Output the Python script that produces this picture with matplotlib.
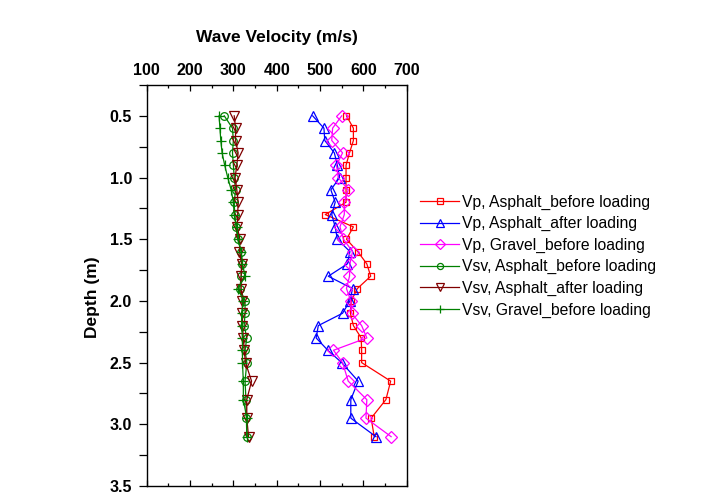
import matplotlib
matplotlib.use("Agg")
import matplotlib.pyplot as plt
from matplotlib.ticker import MultipleLocator

plt.rcParams['font.family'] = ['Liberation Sans', 'DejaVu Sans']

depth = [0.5, 0.6, 0.7, 0.8, 0.9, 1.0, 1.1, 1.2, 1.3, 1.4, 1.5, 1.6, 1.7, 1.8,
         1.9, 2.0, 2.1, 2.2, 2.3, 2.4, 2.5, 2.65, 2.8, 2.95, 3.1]

vp_asphalt_before = [561, 577, 577, 568, 560, 560, 560, 560, 512, 577, 561, 587, 608,
                     617, 586, 572, 570, 577, 595, 596, 596, 663, 652, 618, 625]
vp_asphalt_after = [483, 509, 511, 533, 540, 545, 525, 535, 527, 535, 540, 569, 563,
                    519, 575, 569, 552, 496, 491, 518, 550, 588, 571, 571, 629]
vp_gravel_before = [550, 529, 527, 552, 538, 542, 565, 556, 556, 546, 554, 575, 569,
                    568, 561, 571, 573, 596, 608, 531, 552, 565, 608, 606, 664]
vsv_asphalt_before = [279, 298, 300, 298, 300, 302, 305, 302, 303, 306, 310, 318, 320,
                      318, 315, 327, 327, 325, 331, 327, 331, 327, 329, 330, 331]
vsv_asphalt_after = [302, 305, 305, 311, 308, 304, 308, 311, 310, 309, 315, 314, 319,
                     318, 318, 321, 321, 321, 323, 325, 328, 342, 331, 331, 335]
vsv_gravel_before = [267, 269, 271, 274, 280, 287, 295, 300, 302, 308, 311, 318, 321,
                     327, 311, 323, 319, 319, 321, 321, 321, 323, 323, 331, 331]

labels = ["Vp, Asphalt_before loading", "Vp, Asphalt_after loading",
          "Vp, Gravel_before loading", "Vsv, Asphalt_before loading",
          "Vsv, Asphalt_after loading", "Vsv, Gravel_before loading"]

x_ticks = [100, 200, 300, 400, 500, 600, 700]
y_ticks = [0.5, 1.0, 1.5, 2.0, 2.5, 3.0, 3.5]

fig = plt.figure(figsize=(7.08, 4.95), dpi=100)
W, H = 708, 495
x0, x1, ytop, ybot = 146.7, 406.7, 85, 486
ax = fig.add_axes([x0 / W, 1 - ybot / H, (x1 - x0) / W, (ybot - ytop) / H])

series = [
    (vp_asphalt_before, '#ff0000', 's', 5.0),
    (vp_asphalt_after, '#0000ff', '^', 7.5),
    (vp_gravel_before, '#ff00ff', 'D', 6.0),
    (vsv_asphalt_before, '#008000', 'o', 5.5),
    (vsv_asphalt_after, '#800000', 'v', 7.5),
    (vsv_gravel_before, '#008000', '+', 7.5),
]
for (vals, col, mk, ms), lab in zip(series, labels):
    ax.plot(vals, depth, color=col, lw=0.9, marker=mk, ms=ms,
            mfc='none', mec=col, mew=0.9, label=lab)

ax.set_xlim(100, 700)
ax.set_ylim(3.5, 0.25)
ax.set_xticks(x_ticks)
ax.set_yticks(y_ticks)
ax.set_xticklabels([str(v) for v in x_ticks])
ax.set_yticklabels([f"{v:.1f}" for v in y_ticks])
ax.xaxis.set_minor_locator(MultipleLocator(50))
ax.yaxis.set_minor_locator(MultipleLocator(0.25))

ax.tick_params(axis='x', which='both', direction='in', top=True, bottom=True,
               labeltop=True, labelbottom=False, width=0.9, pad=5)
ax.tick_params(axis='x', which='major', length=4.5)
ax.tick_params(axis='x', which='minor', length=2.5)
ax.tick_params(axis='y', which='both', direction='out', left=True, right=False,
               length=6, width=0.9, pad=4.5)
for lab in ax.get_xticklabels() + ax.get_yticklabels():
    lab.set_fontweight('bold')
    lab.set_fontsize(11.5)
for sp in ax.spines.values():
    sp.set_linewidth(1.0)

ax.xaxis.set_label_position('top')
ax.set_xlabel("Wave Velocity (m/s)", fontsize=12.5, fontweight='bold', labelpad=15)
ax.set_ylabel("Depth (m)", fontsize=12.5, fontweight='bold')
ax.yaxis.set_label_coords((100 - x0) / (x1 - x0), 1 - (297 - ytop) / (ybot - ytop))

leg = fig.legend(loc='upper left', bbox_to_anchor=(420 / W, 1 - 194.5 / H),
                 frameon=False, fontsize=11.3, handlelength=2.5,
                 handletextpad=0.15, labelspacing=0.41, borderpad=0,
                 borderaxespad=0, markerscale=0.8)

fig.savefig("out.png", dpi=100)
